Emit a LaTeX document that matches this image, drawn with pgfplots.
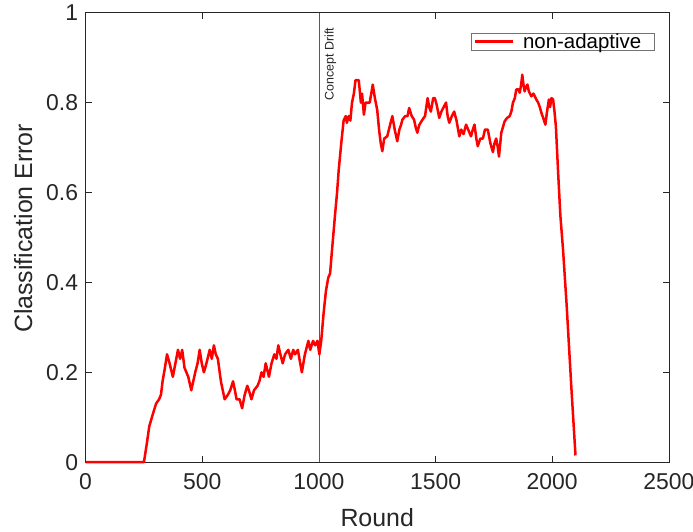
\documentclass[border=0pt]{standalone}
\usepackage{pgfplots}
\pgfplotsset{compat=1.18}
\usepackage{fontspec}
\setmainfont{Liberation Sans}
\definecolor{axc}{rgb}{0.15,0.15,0.15}
\definecolor{mred}{rgb}{1,0,0}

\begin{document}
\begin{tikzpicture}
\begin{axis}[name=ax, scale only axis, width=583.2bp, height=449.5bp,
  xmin=0, xmax=2500, ymin=0, ymax=1,
  xtick={0,500,1000,1500,2000,2500},
  ytick={0,0.2,0.4,0.6,0.8,1},
  yticklabels={0,0.2,0.4,0.6,0.8,1},
  scaled ticks=false,
  /pgf/number format/1000 sep={},
  /pgf/number format/assume math mode=true,
  tick label style={font=\fontsize{23}{27}\selectfont, text=axc},
  xticklabel style={yshift=-8bp},
  yticklabel style={xshift=-4bp},
  label style={font=\fontsize{25}{29}\selectfont, text=axc},
  xlabel={Round}, ylabel={Classification Error},
  xlabel style={at={(axis description cs:0.5,-0.123)}, anchor=center},
  ylabel style={at={(axis description cs:-0.1068,0.52)}, anchor=center},
  axis line style={axc, line width=0.6bp},
  tick style={axc, line width=0.6bp},
  major tick length=6bp, tick align=inside,
  clip=false,
  legend style={at={(axis description cs:0.9763,0.9555)}, anchor=north east,
    draw=black!55, line width=0.6bp, font=\fontsize{20.5}{23}\selectfont,
    inner xsep=3bp, inner ysep=0bp, nodes={inner xsep=1.5bp, inner ysep=0.5bp},
    /tikz/every odd column/.append style={column sep=7bp}},
  legend cell align=left,
  legend image code/.code={\draw[#1] (0bp,0bp) -- (38bp,0bp);},
]
\addplot[gray!70!black, line width=0.7bp, forget plot] coordinates {(1000,0) (1000,1)};
\addplot[mred, line width=2.5bp, line join=round] coordinates {
(0,0) (250,0) (262,0.04) (273,0.08) (290,0.11) (302,0.13) (315,0.14) (323,0.15) (330,0.18) (340,0.21)
(349,0.24) (360,0.22) (374,0.19) (385,0.22) (396,0.25) (405,0.23) (414,0.25) (424,0.21) (440,0.19)
(453,0.16) (470,0.20) (480,0.22) (489,0.25) (498,0.22) (507,0.20) (518,0.22) (532,0.25) (541,0.23)
(550,0.26) (558,0.24) (567,0.23) (580,0.18) (596,0.14) (610,0.15) (620,0.16) (632,0.18) (640,0.16)
(647,0.14) (660,0.14) (671,0.12) (682,0.15) (693,0.17) (700,0.16) (711,0.14) (722,0.16) (737,0.17)
(745,0.18) (754,0.20) (763,0.19) (772,0.22) (786,0.19) (797,0.22) (809,0.24) (818,0.23) (826,0.26)
(835,0.24) (845,0.22) (855,0.24) (869,0.25) (880,0.23) (890,0.25) (898,0.24) (910,0.25) (920,0.22)
(927,0.20) (940,0.24) (955,0.27) (963,0.25) (975,0.27) (984,0.26) (994,0.27) (1002,0.24) (1010,0.27)
(1020,0.33) (1030,0.38) (1040,0.41) (1048,0.42) (1056,0.47) (1070,0.555) (1078,0.60) (1085,0.65)
(1096,0.71) (1106,0.76) (1115,0.77) (1120,0.755) (1128,0.77) (1135,0.76) (1142,0.80) (1150,0.82)
(1157,0.85) (1171,0.85) (1180,0.80) (1185,0.82) (1193,0.773) (1200,0.80) (1207,0.80) (1218,0.80)
(1231,0.84) (1240,0.81) (1250,0.784) (1258,0.74) (1265,0.71) (1272,0.692) (1280,0.72) (1293,0.725)
(1305,0.75) (1315,0.77) (1325,0.74) (1336,0.714) (1345,0.74) (1352,0.75) (1358,0.762) (1370,0.77)
(1380,0.77) (1387,0.788) (1398,0.77) (1408,0.762) (1415,0.745) (1422,0.733) (1430,0.75) (1444,0.762)
(1455,0.77) (1466,0.81) (1473,0.79) (1480,0.78) (1490,0.81) (1497,0.81) (1505,0.795) (1516,0.766)
(1525,0.78) (1535,0.79) (1545,0.80) (1552,0.77) (1559,0.755) (1570,0.77) (1580,0.78) (1590,0.76)
(1602,0.725) (1610,0.74) (1620,0.73) (1631,0.751) (1640,0.74) (1652,0.725) (1660,0.74) (1667,0.751)
(1675,0.72) (1681,0.703) (1692,0.72) (1703,0.72) (1712,0.74) (1724,0.74) (1735,0.71) (1746,0.69)
(1753,0.71) (1760,0.72) (1767,0.70) (1772,0.68) (1782,0.733) (1796,0.758) (1805,0.765) (1818,0.77)
(1825,0.78) (1832,0.80) (1840,0.81) (1846,0.829) (1855,0.83) (1861,0.822) (1867,0.84) (1872,0.862)
(1877,0.84) (1882,0.825) (1888,0.835) (1894,0.84) (1900,0.825) (1911,0.814) (1920,0.82) (1932,0.807)
(1940,0.80) (1947,0.79) (1954,0.777) (1962,0.765) (1971,0.751) (1978,0.78) (1986,0.807) (1991,0.79)
(1997,0.81) (2004,0.807) (2010,0.78) (2016,0.747) (2026,0.64) (2035,0.55) (2047,0.47) (2062,0.35)
(2083,0.16) (2100,0.015)
};
\addlegendentry{non-adaptive\hspace{9bp}\mbox{}}
\node[rotate=90, anchor=north east, font=\fontsize{12.5}{14}\selectfont, text=axc, inner sep=1bp]
  at ([xshift=4.5bp, yshift=-14bp]axis cs:1000,1) {Concept Drift};
\end{axis}
\pgfresetboundingbox
\path ([xshift=-85.6bp,yshift=-69.8bp]ax.south west) rectangle ([xshift=24.2bp,yshift=12.7bp]ax.north east);
\end{tikzpicture}
\end{document}
